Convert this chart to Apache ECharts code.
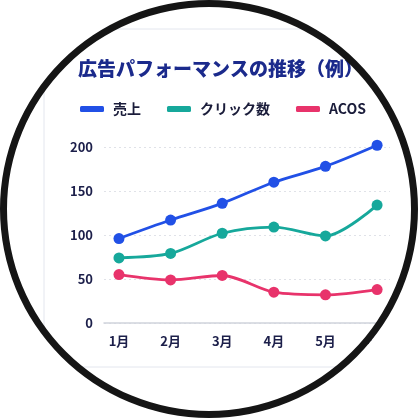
<!DOCTYPE html>
<html>
<head>
<meta charset="utf-8">
<script src="https://cdn.jsdelivr.net/npm/echarts@6/dist/echarts.min.js"></script>
<style>
html, body { margin: 0; padding: 0; background: #fff; }
#chart { width: 418px; height: 418px; }
</style>
</head>
<body>
<div id="chart"></div>
<script>
var months = ['1月', '2月', '3月', '4月', '5月', '6月']
var monthPos = [1, 2, 3, 4, 5, 6]
var sales = [96, 117, 136, 160, 178, 202]
var clicks = [74, 79, 102, 109, 99, 134]
var acos = [55, 49, 54, 35, 32, 38]

function pairs(vals) {
  return vals.map(function (v, i) { return [monthPos[i], v] })
}

var font = '"Noto Sans CJK JP", "Noto Sans", sans-serif'
var myEcharts = echarts.init(document.getElementById('chart'))

function lineSeries(name, vals, color) {
  return {
    name: name,
    type: 'line',
    data: pairs(vals),
    smooth: 0.3,
    clip: false,
    symbol: 'circle',
    symbolSize: 11,
    lineStyle: { width: 2.8, color: color },
    itemStyle: { color: color },
    z: 3
  }
}

myEcharts.setOption({
  animation: false,
  title: {
    text: '広告パフォーマンスの推移（例）',
    left: 73,
    top: 54,
    textStyle: { fontFamily: font, fontSize: 19, fontWeight: 900, color: '#1b2a8c' }
  },
  legend: {
    left: 75,
    top: 97,
    icon: 'roundRect',
    itemWidth: 24,
    itemHeight: 6,
    itemGap: 26,
    textStyle: { fontFamily: font, fontSize: 14, fontWeight: 'bold', color: '#1a1c3a', padding: [0, 0, 0, 4] }
  },
  grid: { left: 104, right: 28, top: 147, bottom: 95 },
  xAxis: {
    type: 'value',
    min: 0.71,
    max: 6.25,
    axisLine: { show: true, lineStyle: { color: '#cfd3dc', width: 1.5 } },
    axisTick: { show: false },
    splitLine: { show: false },
    axisLabel: {
      customValues: monthPos,
      formatter: function (v) { return months[Math.round(v) - 1] },
      margin: 12,
      fontFamily: font,
      fontSize: 13,
      fontWeight: 'bold',
      color: '#1c1f4a'
    }
  },
  yAxis: {
    type: 'value',
    min: 0,
    max: 200,
    interval: 50,
    axisLine: { show: false },
    axisTick: { show: false },
    splitLine: { lineStyle: { type: [2, 3], color: '#e0e2e8' } },
    axisLabel: { margin: 11, fontFamily: font, fontSize: 13, fontWeight: 'bold', color: '#1c1f4a' }
  },
  series: [
    lineSeries('売上', sales, '#2150e6'),
    lineSeries('クリック数', clicks, '#16a89b'),
    lineSeries('ACOS', acos, '#e8336b')
  ],
  graphic: [
    {
      type: 'rect', z: -10, silent: true,
      shape: { x: 44, y: 29, width: 400, height: 338, r: 8 },
      style: { fill: '#ffffff', stroke: '#e3e6ee', lineWidth: 1 }
    },
    {
      type: 'ring', z: 100, silent: true,
      shape: { cx: 209, cy: 209, r: 320, r0: 209 },
      style: { fill: '#ffffff' }
    },
    {
      type: 'ring', z: 100, silent: true,
      shape: { cx: 209, cy: 209, r: 209, r0: 202 },
      style: { fill: '#151515' }
    }
  ]
})
</script>
</body>
</html>
